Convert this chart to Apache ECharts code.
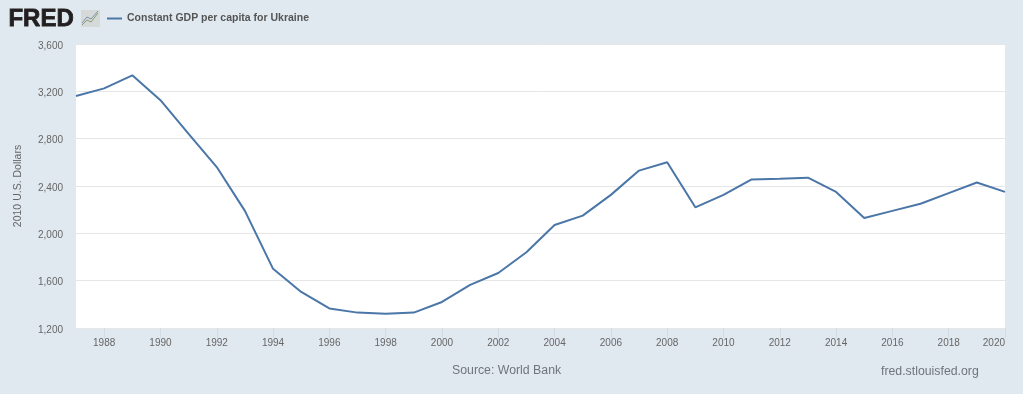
<!DOCTYPE html>
<html>
<head>
<meta charset="utf-8">
<style>
  html, body { margin: 0; padding: 0; background: #e1e9f0; }
  #chart { width: 1023px; height: 394px; }
</style>
<script src="https://cdn.jsdelivr.net/npm/echarts@6/dist/echarts.min.js"></script>
</head>
<body>
<div id="chart"></div>
<script>
const seriesName = 'Constant GDP per capita for Ukraine'
const years = ['1987', '1988', '1989', '1990', '1991', '1992', '1993', '1994', '1995', '1996', '1997', '1998',
  '1999', '2000', '2001', '2002', '2003', '2004', '2005', '2006', '2007', '2008', '2009', '2010', '2011', '2012',
  '2013', '2014', '2015', '2016', '2017', '2018', '2019', '2020']
const gdpPerCapita = [3160, 3225, 3335, 3125, 2840, 2560, 2190, 1700, 1505, 1365, 1330, 1320,
  1330, 1420, 1565, 1665, 1840, 2070, 2150, 2325, 2530, 2600, 2220, 2325, 2455, 2462,
  2470, 2350, 2130, 2190, 2250, 2340, 2430, 2350]

const fontFamily = '"Liberation Sans", Arial, sans-serif'
// only even years get a label and a tick
const everyOther = (index) => index % 2 === 1

const chart = echarts.init(document.getElementById('chart'), null, { renderer: 'canvas' })
chart.setOption({
  animation: false,
  backgroundColor: '#e1e9f0',
  textStyle: { fontFamily },
  grid: {
    show: true, left: 76, right: 18, top: 44, bottom: 66,
    backgroundColor: '#fff', borderWidth: 0, outerBoundsMode: 'none'
  },
  legend: {
    left: 102, top: 8,
    icon: 'rect', itemWidth: 15, itemHeight: 2, itemGap: 4,
    textStyle: { fontSize: 10.5, fontWeight: 'bold', color: '#555', fontFamily }
  },
  xAxis: {
    type: 'category',
    data: years,
    boundaryGap: false,
    axisLine: { show: false },
    axisTick: { show: true, interval: everyOther, length: 10, lineStyle: { color: '#d3dbe3' } },
    axisLabel: { interval: everyOther, margin: 10, fontSize: 10, color: '#666', alignMaxLabel: 'right' }
  },
  yAxis: {
    type: 'value',
    min: 1200, max: 3600, interval: 400,
    name: '2010 U.S. Dollars',
    nameLocation: 'middle',
    nameGap: 52,
    nameRotate: 90,
    nameTextStyle: { fontSize: 10.5, color: '#666' },
    axisLine: { show: false },
    axisTick: { show: false },
    axisLabel: {
      margin: 13, fontSize: 10, color: '#666',
      verticalAlign: 'top', lineHeight: 4,
      formatter: (v) => v.toLocaleString('en-US')
    },
    splitLine: { lineStyle: { color: '#e6e6e6' } }
  },
  series: [{
    name: seriesName,
    type: 'line',
    data: gdpPerCapita,
    showSymbol: false,
    lineStyle: { color: '#4a76a8', width: 2 },
    itemStyle: { color: '#4a76a8' }
  }],
  graphic: [
    { type: 'text', left: 8, top: 7, style: { text: 'FRED', font: 'bold 24px "Liberation Sans"', fill: '#231f20', stroke: '#231f20', lineWidth: 0.8 } },
    { type: 'rect', shape: { x: 81, y: 10, width: 19, height: 17 }, style: { fill: '#d5dad8' } },
    { type: 'polyline', shape: { points: [[82, 25], [87, 20], [91, 22], [98, 13]] }, style: { stroke: '#8a9a78', lineWidth: 1, fill: null } },
    { type: 'polyline', shape: { points: [[82, 23], [87, 17], [91, 19], [98, 11]] }, style: { stroke: '#7f93a8', lineWidth: 1, fill: null } },
    { type: 'text', left: 452, top: 365, style: { text: 'Source: World Bank', font: '12.3px "Liberation Sans"', fill: '#70757c' } },
    { type: 'text', left: 881, top: 366, style: { text: 'fred.stlouisfed.org', font: '12.3px "Liberation Sans"', fill: '#70757c' } }
  ]
})
</script>
</body>
</html>
